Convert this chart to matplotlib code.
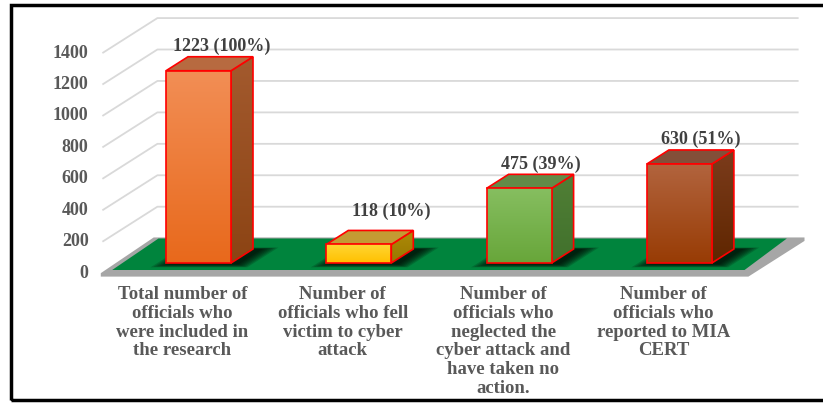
import numpy as np
import matplotlib
matplotlib.use("Agg")
import matplotlib.pyplot as plt
from matplotlib.patches import Polygon, Rectangle
from matplotlib.colors import LinearSegmentedColormap

plt.rcParams['font.family'] = ['Liberation Serif', 'DejaVu Serif']
plt.rcParams['font.weight'] = 'bold'

categories = [
    "Total number of\nofficials who\nwere included in\nthe research",
    "Number of\nofficials who fell\nvictim to cyber\nattack",
    "Number of\nofficials who\nneglected the\ncyber attack and\nhave taken no\naction.",
    "Number of\nofficials who\nreported to MIA\nCERT",
]
values = [1223, 118, 475, 630]
percents = [100, 10, 39, 51]
yticks = [0, 200, 400, 600, 800, 1000, 1200, 1400]

# face colours: (front top, front bottom, side top, side bottom, top face)
face_colors = [
    ("#F28E55", "#E8691C", "#A35A2E", "#8C4414", "#B76A40"),
    ("#FFD633", "#FFC000", "#AD8A08", "#987800", "#C49A33"),
    ("#86BE60", "#68A63A", "#517F36", "#41712C", "#628B48"),
    ("#B2643E", "#983C05", "#7C3C1C", "#5F2600", "#834F39"),
]
# extra shift of a value label, in pixels
label_nudge = [(0, 0), (9, 9), (-2, 0), (-2, 0)]

# pixel geometry of the pseudo-3D view
W_PX, H_PX = 823, 403
PX_CAT = 160.3          # pixels per category step
PX_VAL = 0.1572         # pixels per value unit
X0_PX, Y0_PX = 198.5, 263.0
DX = 55 / PX_CAT        # shift per unit of depth, x
DY = 35 / PX_VAL        # shift per unit of depth, y
BAR_W = 65 / PX_CAT
BAR_D = 0.4
D_FRONT, D_BACK = -0.29, 0.71


def pt(x, d, v=0.0):
    return (x + d * DX, v + d * DY)


fig = plt.figure(figsize=(W_PX / 100, H_PX / 100), dpi=100)
ax = fig.add_axes([0, 0, 1, 1])
xlim = (-X0_PX / PX_CAT, (W_PX - X0_PX) / PX_CAT)
ylim = ((Y0_PX - H_PX) / PX_VAL, Y0_PX / PX_VAL)
ax.axis('off')

# back wall and left wall grid lines
for v in yticks[1:]:
    p = [pt(-0.5, D_FRONT, v), pt(-0.5, D_BACK, v), pt(3.5, D_BACK, v)]
    ax.plot([q[0] for q in p], [q[1] for q in p], color="#d9d9d9", lw=1.3,
            zorder=1, solid_capstyle='butt')

# floor slab
T = 22
slab = [pt(-0.51, D_FRONT, 0), pt(-0.51, D_FRONT, -T), pt(3.53, D_FRONT, -T),
        pt(3.53, D_BACK + 0.02, -T), pt(3.53, D_BACK + 0.02, 0), pt(-0.53, D_BACK + 0.02, 0)]
ax.add_patch(Polygon(slab, closed=True, facecolor="#a6a6a6", edgecolor="none", zorder=2))
green = [pt(-0.47, -0.2), pt(3.475, -0.2), pt(3.43, 0.70), pt(-0.49, 0.70)]
ax.add_patch(Polygon(green, closed=True, facecolor="#00843D", edgecolor="none", zorder=3))


def gradient(patch, pts, c_top, c_bot, z):
    xs = [p[0] for p in pts]
    ys = [p[1] for p in pts]
    ext = (min(xs), max(xs), min(ys), max(ys))
    cmap = LinearSegmentedColormap.from_list("g", [c_top, c_bot])
    im = ax.imshow(np.linspace(0, 1, 64).reshape(-1, 1), extent=ext, origin='upper',
                   cmap=cmap, aspect='auto', zorder=z, interpolation='bilinear')
    im.set_clip_path(patch)


for i, (v, pc) in enumerate(zip(values, percents)):
    l, r = i - BAR_W / 2, i + BAR_W / 2
    ft, fb, st, sb, tp = face_colors[i]

    # soft shadow on the floor
    for k in range(7):
        e = 0.014 * k
        sh = [pt(l - e + 0.03, -0.04 - e), pt(r + e + 0.06, -0.04 - e),
              pt(r + e + 0.06, BAR_D + e * 0.5), pt(l - e + 0.03, BAR_D + e * 0.5)]
        ax.add_patch(Polygon(sh, closed=True, facecolor="black", alpha=0.17,
                             edgecolor="none", zorder=4))

    z = 10 + i * 3
    side_pts = [(r, 0), (r, v), pt(r, BAR_D, v), pt(r, BAR_D, 0)]
    side = Polygon(side_pts, closed=True, facecolor="none", edgecolor="#ff0000",
                   lw=1.2, zorder=z + 0.5)
    ax.add_patch(side)
    gradient(side, side_pts, st, sb, z)

    top = Polygon([(l, v), (r, v), pt(r, BAR_D, v), pt(l, BAR_D, v)], closed=True,
                  facecolor=tp, edgecolor="#ff0000", lw=1.2, zorder=z + 1)
    ax.add_patch(top)

    front = ax.bar(i, v, width=BAR_W, bottom=0, color="none", edgecolor="#ff0000",
                   lw=1.2, zorder=z + 2.5)[0]
    gradient(front, [(l, 0), (r, v)], ft, fb, z + 2)

    nx, ny = label_nudge[i]
    ax.annotate(f"{v} ({pc}%)", xy=pt(i + 0.01, BAR_D, v), xytext=(nx * 0.72, 7.5 + ny * 0.72),
                textcoords='offset points', ha='center', va='center', fontsize=13,
                color="#404040", zorder=30)

    ax.annotate(categories[i], xy=pt(i, D_FRONT, 0), xytext=(0, -9.5), textcoords='offset points',
                ha='center', va='top', fontsize=13.5, color="#595959", linespacing=1.13,
                multialignment='center', zorder=30)

for v in yticks:
    ax.annotate(str(v), xy=pt(-0.5, D_FRONT, v), xytext=(-10, 0), textcoords='offset points',
                ha='right', va='center', fontsize=13, color="#595959", zorder=30)

ax.set_xlim(*xlim)
ax.set_ylim(*ylim)

# outer frame, open on the right
fig.add_artist(Rectangle((11 / W_PX, 3 / H_PX), 1.0, (H_PX - 8) / H_PX, transform=fig.transFigure,
                         fill=False, edgecolor="black", lw=2.5))

fig.savefig("out.png", dpi=100)
